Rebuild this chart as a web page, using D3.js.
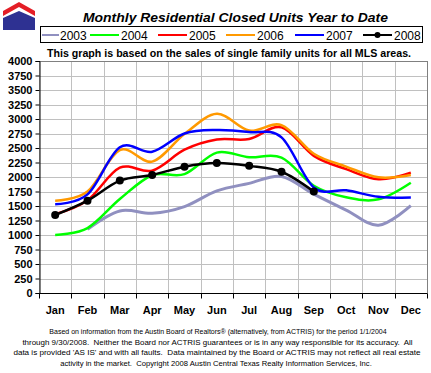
<!DOCTYPE html>
<html><head><meta charset="utf-8">
<script src="https://cdn.jsdelivr.net/npm/d3@7"></script>
<style>
html,body{margin:0;padding:0;background:#fff;}
svg{display:block;font-family:"Liberation Sans",Arial,sans-serif;}
</style></head>
<body>
<svg id="chart" width="431" height="373"></svg>
<script>
const months = ["Jan","Feb","Mar","Apr","May","Jun","Jul","Aug","Sep","Oct","Nov","Dec"];
const yTicks = d3.range(0, 4001, 250);
const years = ["2003","2004","2005","2006","2007","2008"];
const colors = ["#9090c0","#00ff00","#ff0000","#ff9900","#0000ff","#000000"];
const v2003 = [null, 1100, 1415, 1375, 1490, 1760, 1890, 2010, 1705, 1430, 1170, 1505];
const v2004 = [1000, 1120, 1620, 2030, 2050, 2420, 2340, 2335, 1850, 1650, 1615, 1900];
const v2005 = [1360, 1600, 2160, 2110, 2470, 2645, 2655, 2855, 2365, 2135, 1960, 2075];
const v2006 = [1590, 1750, 2465, 2265, 2740, 3090, 2800, 2895, 2400, 2180, 1995, 2035];
const v2007 = [1530, 1700, 2512, 2436, 2750, 2810, 2775, 2684, 1820, 1770, 1660, 1645];
const v2008 = [1345, 1592, 1938, 2035, 2178, 2240, 2192, 2091, 1748];
const seriesVals = [v2003, v2004, v2005, v2006, v2007, v2008];
const titleText = "Monthly Residential Closed Units Year to Date";
const subText = "This graph is based on the sales of single family units for all MLS areas.";
const footer = [
  "Based on information from the Austin Board of Realtors\u00ae (alternatively, from ACTRIS) for the period 1/1/2004",
  "through 9/30/2008.\u00a0 Neither the Board nor ACTRIS guarantees or is in any way responsible for its accuracy.\u00a0 All",
  "data is provided 'AS IS' and with all faults.\u00a0 Data maintained by the Board or ACTRIS may not reflect all real estate",
  "activity in the market.\u00a0 Copyright 2008 Austin Central Texas Realty Information Services, Inc."
];

const svg = d3.select("#chart");
const L = 39, R = 427, T = 61, B = 293;
const x = d3.scaleBand().domain(months).range([L, R]);
const y = d3.scaleLinear().domain([0, 4000]).range([B, T]);

// logo
svg.append("path").attr("d","M3,11 L19,2 L35,11 L35,16 L19,7 L3,16 Z").attr("fill","#e41e26");
svg.append("path").attr("d","M3,18 L19,11 L35,18 L35,30 L3,30 Z").attr("fill","#2e3192");

// title
svg.append("text").attr("x",235.5).attr("y",22).attr("text-anchor","middle")
  .attr("font-size",13).attr("font-weight","bold").attr("font-style","italic")
  .attr("textLength",305).attr("lengthAdjust","spacingAndGlyphs").text(titleText);

// legend
svg.append("rect").attr("x",40.5).attr("y",26.5).attr("width",382).attr("height",16)
  .attr("fill","#fff").attr("stroke","#000").attr("stroke-width",1);
const legX = [42, 90, 158, 226, 295, 363];
years.forEach((yr,i)=>{
  const g = svg.append("g");
  g.append("line").attr("x1",legX[i]).attr("x2",legX[i]+ (i==0?17:29)).attr("y1",35).attr("y2",35)
    .attr("stroke",colors[i]).attr("stroke-width",2);
  if(i==5) g.append("circle").attr("cx",legX[i]+14.5).attr("cy",35).attr("r",3).attr("fill","#000");
  g.append("text").attr("x",legX[i]+(i==0?18:31)).attr("y",39.5).attr("font-size",12).text(yr);
});

// subtitle
svg.append("text").attr("x",229).attr("y",57).attr("text-anchor","middle")
  .attr("font-size",10).attr("font-weight","bold")
  .attr("textLength",364).attr("lengthAdjust","spacingAndGlyphs").text(subText);

// grid
const grid = svg.append("g");
yTicks.forEach(t=>{
  grid.append("line").attr("x1",L).attr("x2",R).attr("y1",Math.round(y(t))+0.5).attr("y2",Math.round(y(t))+0.5)
    .attr("stroke","#c0c0c0").attr("stroke-width",1);
});
months.forEach((m,i)=>{
  const xx = Math.round(x(m))+0.5;
  grid.append("line").attr("x1",xx).attr("x2",xx).attr("y1",T).attr("y2",B).attr("stroke","#c0c0c0");
});
svg.append("line").attr("x1",L).attr("x2",R+0.5).attr("y1",T+0.5).attr("y2",T+0.5).attr("stroke","#808080");
svg.append("line").attr("x1",R+0.5).attr("x2",R+0.5).attr("y1",T).attr("y2",B).attr("stroke","#808080");

// axes
const yAxis = d3.axisLeft(y).tickValues(yTicks).tickFormat(d3.format("d")).tickSize(4).tickPadding(3);
const ga = svg.append("g").attr("transform",`translate(${L+0.5},0)`).call(yAxis);
ga.selectAll("text").attr("font-size",11).attr("font-weight","bold").attr("font-family","Liberation Sans, Arial, sans-serif").attr("fill","#000");
ga.select(".domain").attr("stroke","#000");
ga.selectAll(".tick line").attr("stroke","#000");

const xAxis = d3.axisBottom(x).tickSize(0).tickPadding(13);
const gx = svg.append("g").attr("transform",`translate(0,${B+0.5})`).call(xAxis);
gx.select(".domain").attr("stroke","#000").attr("d",`M${L},0H${R+0.5}`);
gx.selectAll("text").attr("font-size",11).attr("font-weight","bold").attr("font-family","Liberation Sans, Arial, sans-serif").attr("fill","#000");
months.concat(["end"]).forEach((m,i)=>{
  const xx = Math.round(L + i*x.bandwidth())+0.5;
  gx.append("line").attr("x1",xx).attr("x2",xx).attr("y1",0).attr("y2",5).attr("stroke","#000");
});

// series
const line = d3.line().defined(d=>d.v!=null).x(d=>x(d.m)+x.bandwidth()/2).y(d=>y(d.v)).curve(d3.curveCatmullRom.alpha(0));
seriesVals.forEach((vals,i)=>{
  const data = vals.map((v,j)=>({m:months[j], v:v}));
  svg.append("path").datum(data).attr("d",line).attr("fill","none")
    .attr("stroke",colors[i]).attr("stroke-width", i==0?3:2.5).attr("stroke-linejoin","round");
  if(i==5){
    svg.selectAll(".mk").data(data.filter(d=>d.v!=null)).enter().append("circle")
      .attr("cx",d=>x(d.m)+x.bandwidth()/2).attr("cy",d=>y(d.v)).attr("r",4).attr("fill","#000");
  }
});

// footer
const fw = [338, 391, 408, 312];
const fx = [218, 217.5, 217, 216];
footer.forEach((t,i)=>{
  const tx = svg.append("text").attr("x",fx[i]).attr("y",334+i*10.7).attr("text-anchor","middle")
    .attr("font-size",8).attr("font-family","Liberation Sans Narrow, Arial Narrow, sans-serif").text(t);
  const w = tx.node().getComputedTextLength();
  if (w > 0) tx.attr("font-size", Math.min(9, 8*fw[i]/w));
});
</script>
</body></html>
